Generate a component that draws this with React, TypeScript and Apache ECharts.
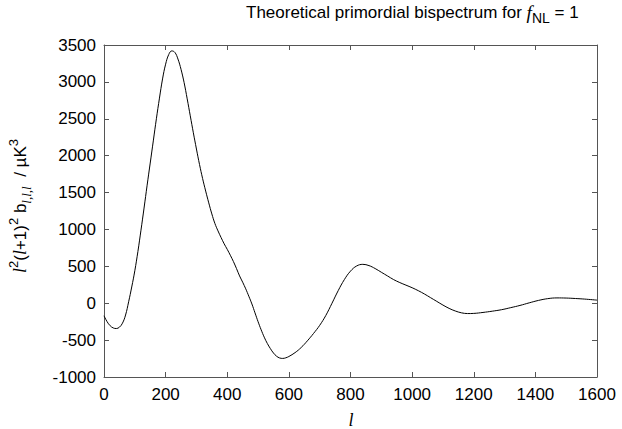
import React, { useEffect, useRef } from "react";
import * as echarts from "echarts";

const ell = [0, 10, 20, 30, 40, 50, 60, 70, 80, 90, 100, 110, 120, 130, 140, 150, 160, 170, 180, 190, 200, 210, 220, 230, 240, 250, 260, 270, 280, 290, 300, 310, 320, 330, 340, 350, 360, 370, 380, 390, 400, 410, 420, 430, 440, 450, 460, 470, 480, 490, 500, 510, 520, 530, 540, 550, 560, 570, 580, 590, 600, 620, 640, 660, 680, 700, 720, 740, 760, 780, 800, 820, 840, 860, 880, 900, 920, 940, 960, 980, 1000, 1020, 1040, 1060, 1080, 1100, 1120, 1140, 1160, 1180, 1200, 1230, 1260, 1290, 1320, 1350, 1380, 1410, 1440, 1470, 1500, 1530, 1560, 1600];
const bisp = [-170, -250, -305, -335, -343, -325, -270, -160, 20, 220, 440, 700, 990, 1290, 1600, 1900, 2200, 2500, 2780, 3040, 3240, 3370, 3420, 3400, 3310, 3170, 2990, 2770, 2540, 2310, 2090, 1880, 1690, 1520, 1360, 1210, 1080, 980, 890, 805, 730, 650, 565, 470, 370, 285, 195, 95, -10, -130, -250, -360, -460, -545, -615, -675, -718, -742, -748, -740, -722, -670, -600, -510, -410, -300, -165, 0, 170, 320, 435, 505, 527, 510, 470, 420, 370, 320, 280, 245, 210, 170, 125, 75, 25, -25, -70, -105, -130, -140, -138, -125, -108, -88, -60, -30, 5, 38, 62, 72, 70, 64, 56, 42];

const xMin = 0, xMax = 1600, xStep = 200;
const yMin = -1000, yMax = 3500, yStep = 500;

const titleMain = "Theoretical primordial bispectrum for ";
const titleTail = " = 1";

export default function App() {
  const ref = useRef<HTMLDivElement>(null);
  useEffect(() => {
    document.body.style.margin = "0";
    const chart = echarts.init(ref.current!, null, { renderer: "svg" });
    const font = "'Liberation Sans', Arial, Helvetica, sans-serif";
    const serif = "'Liberation Serif', 'DejaVu Serif', serif";
    const axisColor = "#555";
    const data = ell.map((l, i) => [l, bisp[i]]);
    const fmt = (v: number) => String(v);
    const baseX = {
      type: "value", min: xMin, max: xMax, interval: xStep,
      axisLine: { show: true, onZero: false, lineStyle: { color: axisColor, width: 1 } },
      axisTick: { show: true, inside: true, length: 5, lineStyle: { color: axisColor } },
      splitLine: { show: false },
    };
    const baseY = {
      type: "value", min: yMin, max: yMax, interval: yStep,
      axisLine: { show: true, onZero: false, lineStyle: { color: axisColor, width: 1 } },
      axisTick: { show: true, inside: true, length: 5, lineStyle: { color: axisColor } },
      splitLine: { show: false },
    };
    chart.setOption({
      animation: false,
      grid: { left: 104, right: 25, top: 45, bottom: 52 },
      xAxis: [
        { ...baseX, position: "bottom", axisLabel: { color: "#000", fontSize: 17, fontFamily: font, margin: 9, formatter: fmt } },
        { ...baseX, position: "top", axisLabel: { show: false } },
      ],
      yAxis: [
        { ...baseY, position: "left", axisLabel: { color: "#000", fontSize: 17, fontFamily: font, margin: 8, formatter: fmt } },
        { ...baseY, position: "right", axisLabel: { show: false } },
      ],
      series: [
        {
          type: "line", data, xAxisIndex: 0, yAxisIndex: 0, smooth: 0.4,
          showSymbol: false, symbol: "none",
          lineStyle: { color: "#000", width: 1 },
        },
      ],
      graphic: [
        {
          type: "text", left: 246, top: 3,
          style: {
            text: `{a|${titleMain}}{f|f}{s|NL}{a|${titleTail}}`,
            rich: {
              a: { fontSize: 17, fontFamily: font, fill: "#000", lineHeight: 24 },
              f: { fontSize: 19, fontFamily: serif, fontStyle: "italic", fill: "#000", lineHeight: 24 },
              s: { fontSize: 14, fontFamily: font, fill: "#000", lineHeight: 14, verticalAlign: "bottom" },
            },
          },
        },
        {
          type: "text", x: 20, y: 206, rotation: Math.PI / 2,
          style: {
            text: "{i|l}{p|2}{a|(}{i|l}{a|+1)}{p|2}{a| b}{b|l,l,l}{a|  / µK}{p|3}",
            align: "center", verticalAlign: "middle",
            rich: {
              a: { fontSize: 17, fontFamily: font, fill: "#000", lineHeight: 26 },
              i: { fontSize: 18, fontFamily: serif, fontStyle: "italic", fill: "#000", lineHeight: 26 },
              p: { fontSize: 13, fontFamily: font, fill: "#000", lineHeight: 13, verticalAlign: "top" },
              b: { fontSize: 13, fontFamily: serif, fontStyle: "italic", fill: "#000", lineHeight: 13, verticalAlign: "bottom" },
            },
          },
        },
        {
          type: "text", x: 351, y: 420,
          style: {
            text: "l", fontSize: 18, fontFamily: serif, fontStyle: "italic", fill: "#000",
            align: "center", verticalAlign: "middle",
          },
        },
      ],
    });
    return () => chart.dispose();
  }, []);
  return <div ref={ref} style={{ width: 622, height: 429 }} />;
}
